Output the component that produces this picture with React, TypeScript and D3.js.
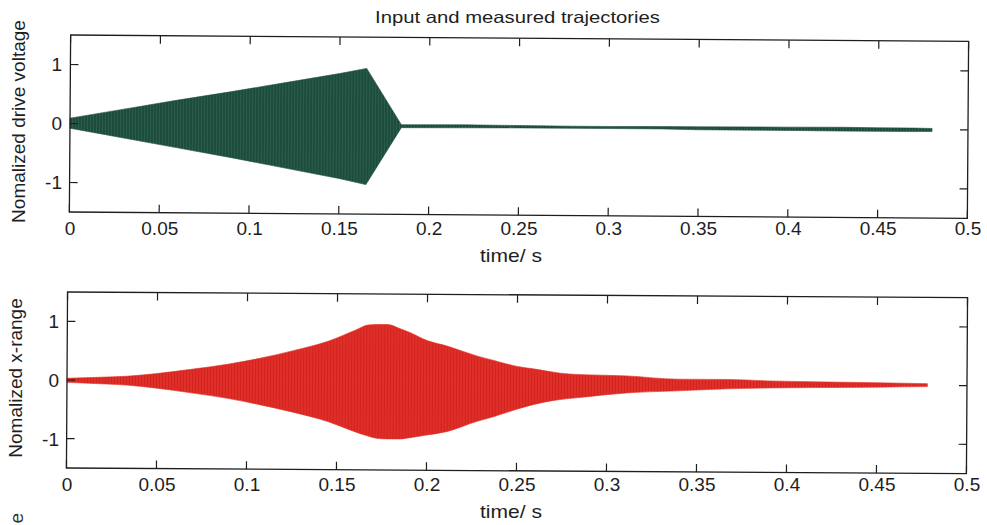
import React from "react";
import * as d3 from "d3";

const W = 987;
const H = 525;

const TITLE = "Input and measured trajectories";
const X_LABEL = "time/ s";
const xTicks = [0, 0.05, 0.1, 0.15, 0.2, 0.25, 0.3, 0.35, 0.4, 0.45, 0.5];
const xTickLabels = ["0", "0.05", "0.1", "0.15", "0.2", "0.25", "0.3", "0.35", "0.4", "0.45", "0.5"];
const yTicks = [-1, 0, 1];
const yTickLabels = ["-1", "0", "1"];

// drive voltage: upper / lower edge of the dense oscillation
const driveT = [0, 0.03, 0.06, 0.09, 0.12, 0.15, 0.165, 0.1845, 0.19, 0.22, 0.25, 0.28, 0.3, 0.33, 0.35, 0.38, 0.4, 0.43, 0.45, 0.47, 0.48];
const driveHi = [0.09, 0.25, 0.41, 0.56, 0.72, 0.88, 0.97, 0.02, 0.02, 0.025, 0.02, 0.015, 0.015, 0.02, 0.02, 0.025, 0.025, 0.03, 0.025, 0.025, 0.02];
const driveLo = [-0.08, -0.24, -0.4, -0.56, -0.73, -0.9, -1.0, -0.03, -0.03, -0.025, -0.02, -0.02, -0.02, -0.02, -0.03, -0.03, -0.03, -0.035, -0.035, -0.035, -0.03];

// measured x-range envelope
const rangeT = [0, 0.018, 0.033, 0.05, 0.07, 0.09, 0.107, 0.125, 0.145, 0.16, 0.167, 0.172, 0.178, 0.185, 0.19, 0.2, 0.211, 0.228, 0.237, 0.25, 0.259, 0.274, 0.283, 0.311, 0.339, 0.367, 0.39, 0.413, 0.45, 0.478];
const rangeHi = [0.03, 0.05, 0.07, 0.12, 0.2, 0.29, 0.39, 0.52, 0.69, 0.88, 0.97, 0.98, 0.98, 0.91, 0.85, 0.71, 0.62, 0.45, 0.38, 0.28, 0.24, 0.17, 0.15, 0.13, 0.08, 0.08, 0.06, 0.05, 0.04, 0.03];
const rangeLo = [-0.04, -0.06, -0.08, -0.13, -0.21, -0.3, -0.4, -0.52, -0.68, -0.85, -0.92, -0.96, -0.97, -0.97, -0.95, -0.9, -0.84, -0.66, -0.58, -0.45, -0.37, -0.28, -0.25, -0.16, -0.12, -0.08, -0.06, -0.05, -0.035, -0.02];

const FONT = "'Liberation Sans', Arial, Helvetica, sans-serif";
const INK = "#1e1e1e";

const panels = [
  {
    key: "drive",
    yLabel: "Nomalized drive voltage",
    t: driveT,
    hi: driveHi,
    lo: driveLo,
    fill: "#1d4b3c",
    stripe: "#2a5f4b",
    curve: d3.curveLinear,
    x0: 70,
    x1: 968,
    top: 35,
    bottom: 212,
    tilt: 0.41,
    yLabelX: 25,
    tickBase: 235,
    xLabelBase: 262,
  },
  {
    key: "range",
    yLabel: "Nomalized x-range",
    t: rangeT,
    hi: rangeHi,
    lo: rangeLo,
    fill: "#e02f28",
    stripe: "#d1241f",
    curve: d3.curveMonotoneX,
    x0: 67,
    x1: 967,
    top: 292,
    bottom: 468,
    tilt: 0.36,
    yLabelX: 22,
    tickBase: 491,
    xLabelBase: 518,
  },
];

function Panel({ p }: { p: (typeof panels)[number] }) {
  const x = d3.scaleLinear().domain([0, 0.5]).range([p.x0, p.x1]);
  const y = d3.scaleLinear().domain([-1.5, 1.5]).range([p.bottom, p.top]);
  const area = d3
    .area<number>()
    .x((_, i) => x(p.t[i]))
    .y0((_, i) => y(p.lo[i]))
    .y1((_, i) => y(p.hi[i]))
    .curve(p.curve);
  const tk = 8;
  const pid = `stripes-${p.key}`;
  return (
    <g>
      <defs>
        <pattern id={pid} width={3} height={6} patternUnits="userSpaceOnUse">
          <rect width={3} height={6} fill={p.fill} />
          <rect width={1} height={6} fill={p.stripe} />
        </pattern>
      </defs>
      <g transform={`rotate(${p.tilt}, ${p.x0}, ${y(0)})`}>
        <path d={area(p.t) || ""} fill={`url(#${pid})`} stroke={p.fill} strokeWidth={0.6} />
        <rect
          x={p.x0}
          y={p.top}
          width={p.x1 - p.x0}
          height={p.bottom - p.top}
          fill="none"
          stroke={INK}
          strokeWidth={1.3}
        />
        {xTicks.map((v) => (
          <g key={v} stroke={INK} strokeWidth={1.2}>
            <line x1={x(v)} x2={x(v)} y1={p.bottom} y2={p.bottom - tk} />
            <line x1={x(v)} x2={x(v)} y1={p.top} y2={p.top + tk} />
          </g>
        ))}
        {yTicks.map((v) => (
          <g key={v} stroke={INK} strokeWidth={1.2}>
            <line x1={p.x0} x2={p.x0 + tk} y1={y(v)} y2={y(v)} />
            <line x1={p.x1} x2={p.x1 - tk} y1={y(v)} y2={y(v)} />
          </g>
        ))}
      </g>
      <g fontFamily={FONT} fill={INK}>
        {xTicks.map((v, i) => (
          <text key={v} x={x(v)} y={p.tickBase} fontSize={19} textAnchor="middle">
            {xTickLabels[i]}
          </text>
        ))}
        {yTicks.map((v, i) => (
          <text key={v} x={p.x0 - 8} y={y(v)} dy="0.36em" fontSize={19} textAnchor="end">
            {yTickLabels[i]}
          </text>
        ))}
        <text
          transform={`translate(${p.yLabelX}, ${(p.top + p.bottom) / 2 - 2}) rotate(-90)`}
          fontSize={19}
          textAnchor="middle"
        >
          {p.yLabel}
        </text>
        <text x={511} y={p.xLabelBase} fontSize={18.5} textAnchor="middle" textLength={62} lengthAdjust="spacingAndGlyphs">
          {X_LABEL}
        </text>
      </g>
    </g>
  );
}

export default function App() {
  return (
    <svg
      width={W}
      height={H}
      viewBox={`0 0 ${W} ${H}`}
      style={{ position: "absolute", left: 0, top: 0, background: "#fff" }}
    >
      <rect width={W} height={H} fill="#fff" />
      <text
        x={517.5}
        y={23}
        fontFamily={FONT}
        fontSize={16.5}
        fill={INK}
        textAnchor="middle"
        textLength={285}
        lengthAdjust="spacingAndGlyphs"
      >
        {TITLE}
      </text>
      {panels.map((p) => (
        <Panel key={p.key} p={p} />
      ))}
      <text transform="translate(22.5, 513) rotate(-90)" fontFamily={FONT} fontSize={19} fill="#333" textAnchor="end">
        e
      </text>
    </svg>
  );
}
